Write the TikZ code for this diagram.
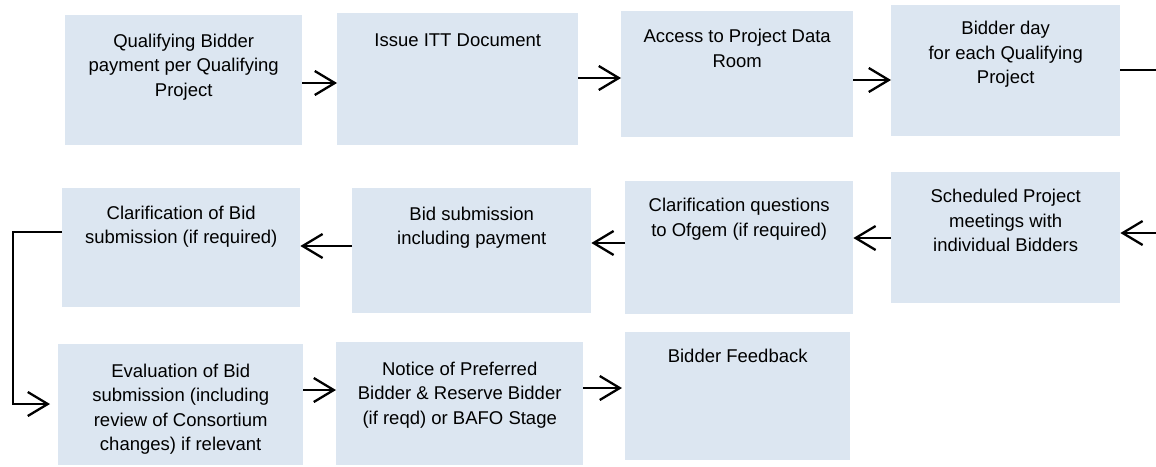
\documentclass[tikz,border=0pt]{standalone}
\usepackage{fontspec}
\setmainfont{Liberation Sans}
\usetikzlibrary{arrows.meta,calc}
\definecolor{boxfill}{RGB}{220,230,241}
\tikzset{
  stepbox/.style={fill=boxfill, draw=none, inner sep=0pt, anchor=north west},
  txt/.style={anchor=base, align=center, inner sep=0pt, text=black,
    font=\fontsize{18.5}{24.5}\selectfont},
  conn/.style={line width=1.6pt, draw=black},
  arr/.style={conn, -{Straight Barb[length=20pt,width=24pt,line width=2.3pt]}}
}
\newcommand{\bx}[5]{% name, x1, y1, x2, y2
  \node[stepbox, minimum width=#4-#2, minimum height=#5-#3] (#1) at (#2,#3) {};}
\begin{document}
\begin{tikzpicture}[x=1pt,y=-1pt]
\fill[white] (0,0) rectangle (1156,466);
\useasboundingbox (0,0) rectangle (1156,466);
% boxes
\bx{A}{65}{15}{302}{145}
\bx{B}{337}{13}{578}{145}
\bx{C}{621}{11}{853}{137}
\bx{D}{891}{5}{1120}{136}
\bx{E}{891}{172}{1120}{303}
\bx{F}{625}{181}{853}{314}
\bx{G}{352}{188}{591}{313}
\bx{H}{62}{188}{300}{307}
\bx{I}{58}{344}{303}{465}
\bx{J}{336}{342}{583}{465}
\bx{K}{625}{332}{850}{460}
% texts (anchor base = baseline of the last line)
\node[txt] (At) at ([yshift=-81pt]A.north) {Qualifying Bidder\\payment per Qualifying\\Project};
\node[txt] (Bt) at ([yshift=-33pt]B.north) {Issue ITT Document};
\node[txt] (Ct) at ([yshift=-56.2pt]C.north) {Access to Project Data\\Room};
\node[txt] (Dt) at ([yshift=-78.5pt]D.north) {Bidder day\\for each Qualifying\\Project};
\node[txt] (Et) at ([yshift=-79.7pt]E.north) {Scheduled Project\\meetings with\\individual Bidders};
\node[txt] (Ft) at ([yshift=-55.2pt]F.north) {Clarification questions\\to Ofgem (if required)};
\node[txt] (Gt) at ([yshift=-56.5pt]G.north) {Bid submission\\including payment};
\node[txt] (Ht) at ([yshift=-55.8pt]H.north) {Clarification of Bid\\submission (if required)};
\node[txt] (It) at ([yshift=-106.8pt]I.north) {Evaluation of Bid\\submission (including\\review of Consortium\\changes) if relevant};
\node[txt] (Jt) at ([yshift=-82pt]J.north) {Notice of Preferred\\Bidder \& Reserve Bidder\\(if reqd) or BAFO Stage};
\node[txt] (Kt) at ([yshift=-30.7pt]K.north) {Bidder Feedback};
% connectors
\coordinate (Dout) at (1156,70);
\coordinate (Ein) at (1156,233);
\coordinate (Lc1) at (13,232);
\coordinate (Lc2) at (13,404);
\draw[arr] (A.east |- 0,83) -- (B.west |- 0,83);
\draw[arr] (B.east |- 0,78) -- (C.west |- 0,78);
\draw[arr] (C.east |- 0,80) -- (D.west |- 0,80);
\draw[conn] (D.east |- Dout) -- (Dout);
\draw[arr] (Ein) -- (E.east |- Ein);
\draw[arr] (E.west |- 0,238) -- (F.east |- 0,238);
\draw[arr] (F.west |- 0,243) -- (G.east |- 0,243);
\draw[arr] (G.west |- 0,246) -- (H.east |- 0,246);
\draw[arr, shorten >=8pt] (H.west |- Lc1) -- (Lc1) -- (Lc2) -- (I.west |- Lc2);
\draw[arr] (I.east |- 0,390) -- (J.west |- 0,390);
\draw[arr, shorten >=3pt] (J.east |- 0,388) -- (K.west |- 0,388);
\end{tikzpicture}
\end{document}
